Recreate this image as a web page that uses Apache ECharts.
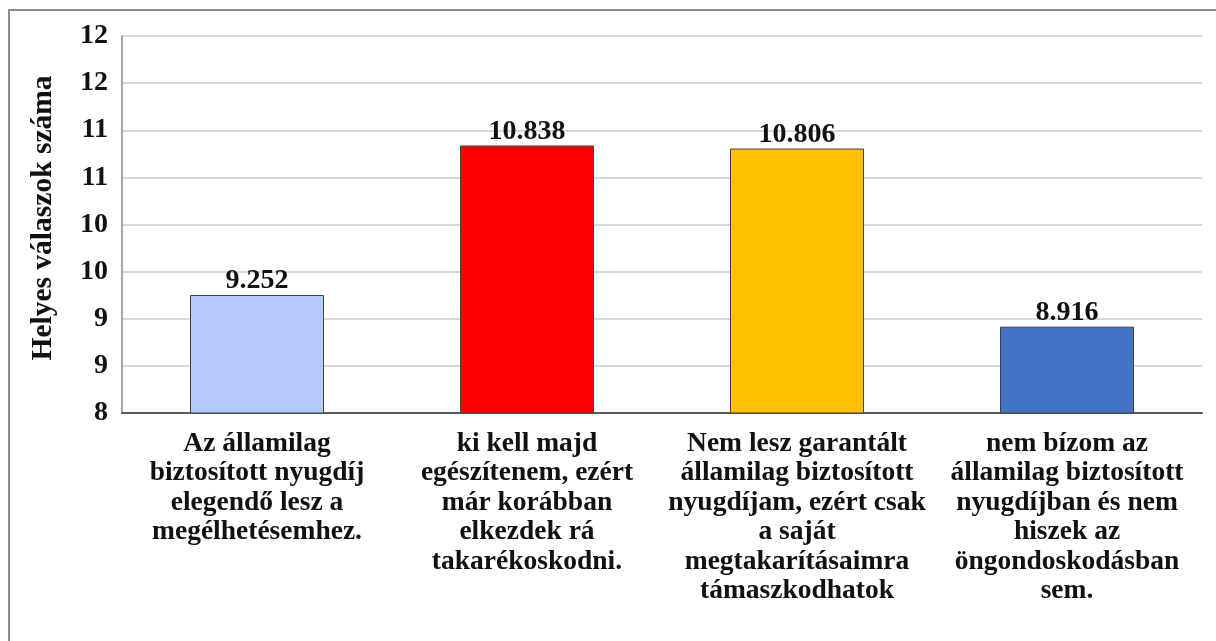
<!DOCTYPE html>
<html>
<head>
<meta charset="utf-8">
<script src="https://cdn.jsdelivr.net/npm/echarts@6/dist/echarts.min.js"></script>
<style>
  html, body { margin: 0; padding: 0; background: #fff; }
  #chart { width: 1216px; height: 641px; }
</style>
</head>
<body>
<div id="chart"></div>
<script>
var categories = [
  'Az államilag\nbiztosított nyugdíj\nelegendő lesz a\nmegélhetésemhez.',
  'ki kell majd\negészítenem, ezért\nmár korábban\nelkezdek rá\ntakarékoskodni.',
  'Nem lesz garantált\nállamilag biztosított\nnyugdíjam, ezért csak\na saját\nmegtakarításaimra\ntámaszkodhatok',
  'nem bízom az\nállamilag biztosított\nnyugdíjban és nem\nhiszek az\nöngondoskodásban\nsem.'
];
var values = [9.252, 10.838, 10.806, 8.916];
var valueLabels = ['9.252', '10.838', '10.806', '8.916'];
var barColors = ['#B4C9FF', '#FF0000', '#FFC000', '#4472C4'];
var yTickLabels = ['8', '9', '9', '10', '10', '11', '11', '12', '12'];
var yMin = 8, yMax = 12, yStep = 0.5;

var font = '"Liberation Serif", "Times New Roman", serif';

var chart = echarts.init(document.getElementById('chart'));

var option = {
  backgroundColor: '#fff',
  animation: false,
  graphic: [
    {
      type: 'rect',
      shape: { x: 9, y: 10, width: 1400, height: 800 },
      style: { fill: 'none', stroke: '#8c8c8c', lineWidth: 2 },
      silent: true
    }
  ],
  grid: { left: 122, right: 14, top: 36, bottom: 228 },
  xAxis: {
    type: 'category',
    data: categories,
    axisTick: { show: false },
    axisLine: { lineStyle: { color: '#595959', width: 2 } },
    axisLabel: {
      interval: 0,
      margin: 16,
      color: '#111',
      fontFamily: font,
      fontWeight: 'bold',
      fontSize: 27.5,
      lineHeight: 29.5,
      align: 'center'
    }
  },
  yAxis: {
    type: 'value',
    min: yMin,
    max: yMax,
    interval: yStep,
    name: 'Helyes válaszok száma',
    nameLocation: 'middle',
    nameGap: 64,
    nameRotate: 90,
    nameTextStyle: {
      fontFamily: font,
      fontWeight: 'bold',
      fontSize: 29.5,
      color: '#111',
      padding: [0, 0, 0, 13]
    },
    axisLine: { show: true, lineStyle: { color: '#a6a6a6', width: 2 } },
    axisTick: { show: false },
    splitLine: { lineStyle: { color: '#d9d9d9', width: 2 } },
    axisLabel: {
      margin: 14,
      color: '#111',
      fontFamily: font,
      fontWeight: 'bold',
      fontSize: 28,
      formatter: function (v) {
        return yTickLabels[Math.round((v - yMin) / yStep)];
      }
    }
  },
  series: [
    {
      type: 'bar',
      barWidth: 134,
      data: values.map(function (v, i) {
        return {
          value: v,
          itemStyle: { color: barColors[i], borderColor: '#404040', borderWidth: 1 }
        };
      }),
      label: {
        show: true,
        position: 'top',
        distance: 0,
        color: '#111',
        fontFamily: font,
        fontWeight: 'bold',
        fontSize: 28,
        formatter: function (p) { return valueLabels[p.dataIndex]; }
      }
    }
  ]
};

chart.setOption(option);
</script>
</body>
</html>
